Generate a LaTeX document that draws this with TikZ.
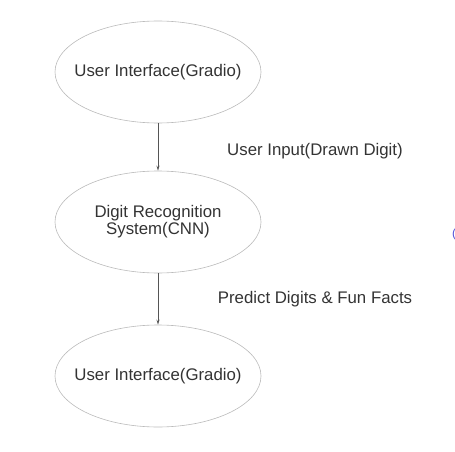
\documentclass[tikz,border=0pt]{standalone}
\usepackage{fontspec}
\setmainfont{Liberation Sans}
\usetikzlibrary{arrows.meta,shapes.geometric}
\definecolor{txt}{HTML}{333333}
\definecolor{edge}{HTML}{BBBBBB}
\definecolor{arr}{HTML}{555555}
\definecolor{stray}{HTML}{5050D8}
\begin{document}
\begin{tikzpicture}[x=1pt,y=-1pt,
  proc/.style={ellipse,draw=edge,line width=0.6pt,minimum width=206pt,minimum height=102pt,inner xsep=-30pt,inner ysep=0pt,text=txt,font=\fontsize{16.8}{17}\selectfont,align=center},
  flow/.style={draw=arr,line width=1pt,-{Stealth[length=5pt,width=3pt]}},
  lbl/.style={text=txt,font=\fontsize{16.8}{17}\selectfont,anchor=base,inner sep=0pt}]
\useasboundingbox (0,0) rectangle (455,452);
\node[proc] (ui1) at (158,72) {User Interface(Gradio)};
\node[proc] (cnn) at (158,222) {Digit Recognition\\System(CNN)};
\node[proc] (ui2) at (158,376) {User Interface(Gradio)};
\draw[flow] (ui1.south) -- (cnn.north);
\draw[flow] (cnn.south) -- (ui2.north);
\node[lbl] (l1) at (315,155) {User Input(Drawn Digit)};
\node[lbl] (l2) at (315,303) {Predict Digits \& Fun Facts};
\node[text=stray,font=\fontsize{12}{12}\selectfont,anchor=west,inner sep=0pt] (s) at (452,234) {(};
\end{tikzpicture}
\end{document}
